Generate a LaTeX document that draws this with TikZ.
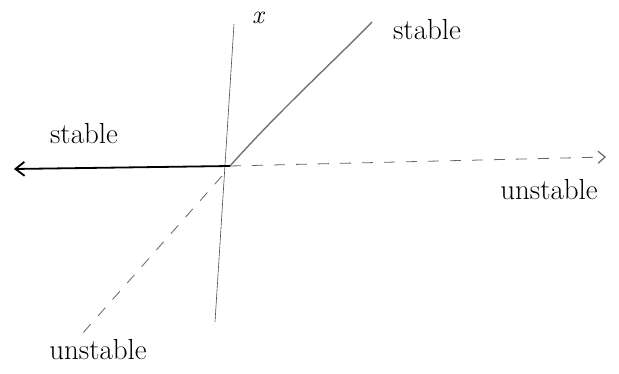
\documentclass[tikz,border=0pt]{standalone}
\usetikzlibrary{arrows.meta}
\begin{document}
\begin{tikzpicture}[x=1pt,y=-1pt,
  lbl/.style={font=\fontsize{29}{31}\selectfont, inner sep=0pt},
  axisline/.style={draw=black!70, line width=0.6pt},
  stableline/.style={draw=black, line width=1.8pt},
  upline/.style={draw=black!55, line width=1.4pt},
  unstline/.style={draw=black!60, line width=0.8pt, dash pattern=on 11pt off 11pt}]
\useasboundingbox (0,0) rectangle (619,374);
\coordinate (O) at (230,166);
\coordinate (axtop) at (234,24);
\coordinate (axbot) at (215,322);
\coordinate (upend) at (372,22);
\coordinate (leftend) at (14,169);
\coordinate (rightend) at (606,157);
\coordinate (llstart) at (222,176);
\coordinate (llend) at (82,334);
\draw[axisline] (axbot) -- (axtop);
\node[lbl, font=\fontsize{26}{28}\selectfont\itshape] (xl) at (258,18) {x};
\draw[upline] (O) .. controls (280,110) and (330,65) .. (upend);
\draw[stableline, -{Straight Barb[length=9pt,width=14pt]}] (O) -- (leftend);
\draw[unstline, -{Straight Barb[length=7pt,width=12pt,line width=1.2pt]}] (O) -- (rightend);
\draw[unstline] (llstart) -- (llend);
\node[lbl] (s1) at (427,30) {stable};
\node[lbl] (s2) at (84,134) {stable};
\node[lbl] (u1) at (549,190) {unstable};
\node[lbl] (u2) at (98,350) {unstable};
\end{tikzpicture}
\end{document}
